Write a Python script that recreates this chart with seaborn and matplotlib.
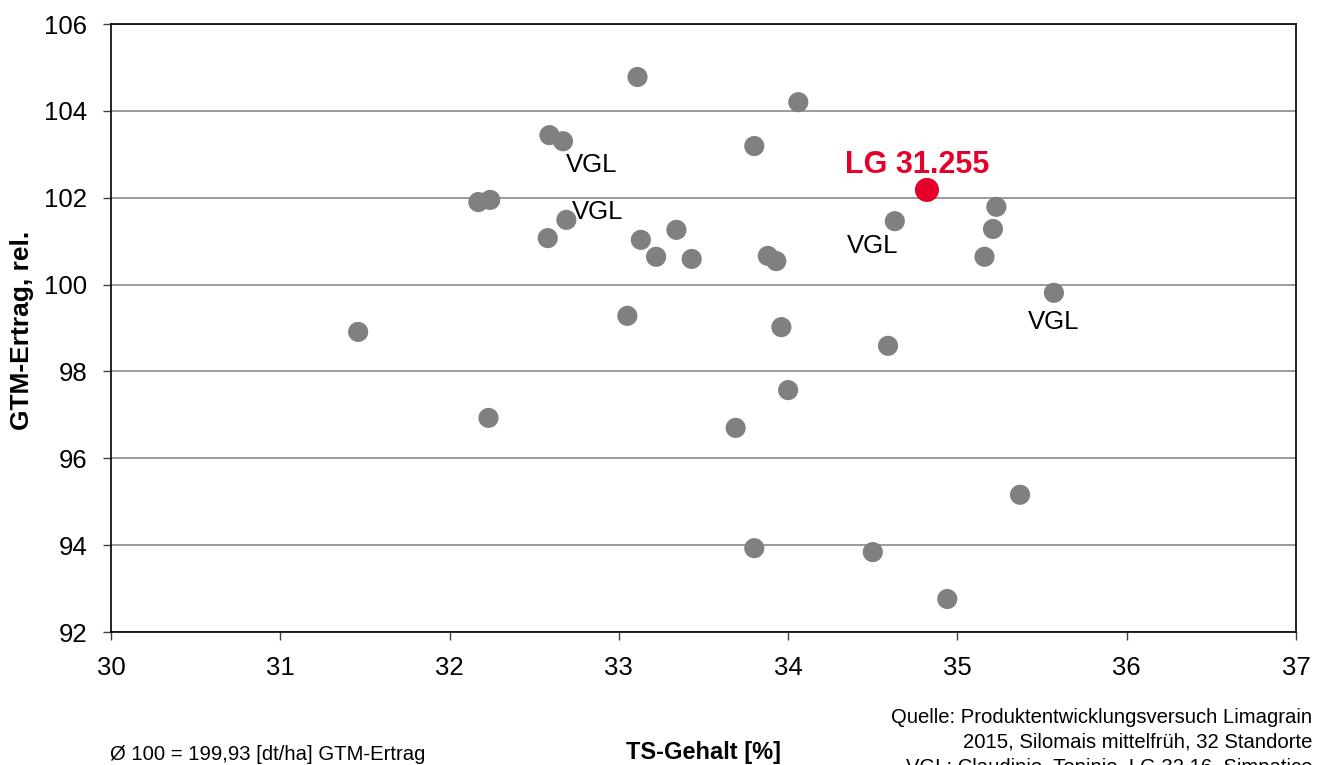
import matplotlib
matplotlib.use('Agg')
import matplotlib.pyplot as plt
import seaborn as sns
import pandas as pd

# Daten
ts_gehalt = [33.11, 34.06, 32.59, 32.67, 33.80, 32.17, 32.24, 32.69, 32.58, 33.13,
             33.34, 33.22, 33.43, 33.88, 33.93, 34.63, 35.23, 35.21, 35.16, 35.57,
             31.46, 33.05, 33.96, 34.59, 34.00, 32.23, 33.69, 35.37, 33.80, 34.50,
             34.94]
gtm_ertrag = [104.78, 104.20, 103.44, 103.30, 103.19, 101.90, 101.95, 101.49, 101.07, 101.03,
              101.26, 100.64, 100.59, 100.66, 100.54, 101.46, 101.79, 101.28, 100.64, 99.81,
              98.91, 99.28, 99.02, 98.59, 97.57, 96.93, 96.70, 95.16, 93.93, 93.84,
              92.76]
lg_ts = [34.82]
lg_ertrag = [102.18]
lg_name = 'LG 31.255'

# Vergleichssorten (Index in den Listen oben)
vgl_index = [3, 7, 15, 19]

df = pd.DataFrame({'TS': ts_gehalt, 'Ertrag': gtm_ertrag})
df_lg = pd.DataFrame({'TS': lg_ts, 'Ertrag': lg_ertrag})

sns.set_style('white')
plt.rcParams['font.family'] = ['Liberation Sans', 'DejaVu Sans']
plt.rcParams['text.color'] = 'black'
plt.rcParams['xtick.labelcolor'] = 'black'
plt.rcParams['ytick.labelcolor'] = 'black'

fig = plt.figure(figsize=(13.25, 7.65), dpi=100)
ax = fig.add_axes([111 / 1325, 1 - 632 / 765, (1296 - 111) / 1325, (632 - 24) / 765])

sns.scatterplot(data=df, x='TS', y='Ertrag', ax=ax, color='#808080', s=210,
                edgecolor='none', zorder=3)
sns.scatterplot(data=df_lg, x='TS', y='Ertrag', ax=ax, color='#E4002B', s=300,
                edgecolor='none', zorder=4)

# Beschriftungen VGL
vgl_offsets = [(29, -24), (31, 8), (-22, -25), (0, -29)]
for i, off in zip(vgl_index, vgl_offsets):
    ax.annotate('VGL', (ts_gehalt[i], gtm_ertrag[i]), xytext=off,
                textcoords='offset pixels', ha='center', va='center',
                fontsize=18.5, color='black', zorder=5)

ax.annotate(lg_name, (lg_ts[0], lg_ertrag[0]), xytext=(-10, 25),
            textcoords='offset pixels', ha='center', va='center',
            fontsize=22, fontweight='bold', color='#E4002B', zorder=5)

ax.set_xlim(30, 37)
ax.set_ylim(92, 106)
ax.set_xticks(range(30, 38))
ax.set_yticks(range(92, 107, 2))
ax.yaxis.grid(True, color='#808080', linewidth=1.1)
ax.xaxis.grid(False)
ax.set_axisbelow(True)

for s in ax.spines.values():
    s.set_color('black')
    s.set_linewidth(1.2)

ax.tick_params(axis='both', which='major', direction='out', length=6, width=1,
               color='#404040', labelsize=18.5, pad=11, bottom=True, left=True)
ax.set_xlabel('')
ax.set_ylabel('')

# Achsentitel und Fußtexte
fig.text(22 / 1325, 1 - 330 / 765, 'GTM-Ertrag, rel.', rotation=90, ha='center',
         va='center', fontsize=19, fontweight='bold')
fig.text(704 / 1325, 1 - 752 / 765, 'TS-Gehalt [%]', ha='center', va='center',
         fontsize=17, fontweight='bold')
fig.text(110 / 1325, 1 - 754 / 765, 'Ø 100 = 199,93 [dt/ha] GTM-Ertrag',
         ha='left', va='center', fontsize=14.6)
fig.text(1312 / 1325, 1 - 708 / 765,
         'Quelle: Produktentwicklungsversuch Limagrain\n'
         '2015, Silomais mittelfrüh, 32 Standorte\n'
         'VGL: Claudinio, Toninio, LG 32.16, Simpatico',
         ha='right', va='top', fontsize=14.6, linespacing=1.4)

fig.savefig('out.png', dpi=100)
